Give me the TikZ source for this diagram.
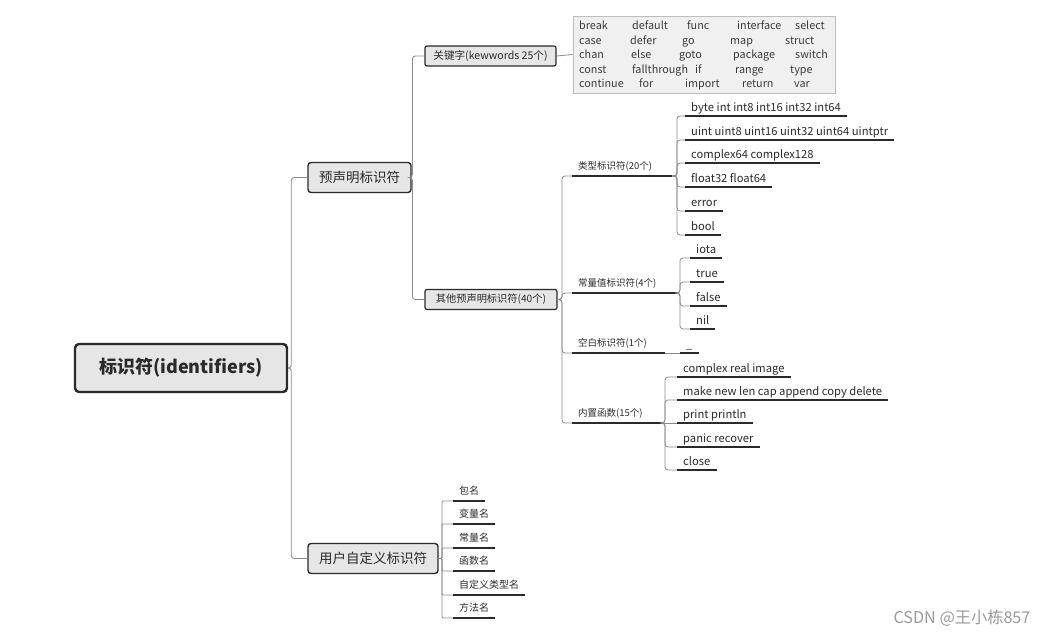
\documentclass[tikz,border=0pt]{standalone}
\usepackage{fontspec}
\setmainfont{Noto Sans CJK SC}
\usepackage{tikz}
\usetikzlibrary{shapes,calc}

\definecolor{ink}{HTML}{2A2A2A}
\definecolor{kwink}{HTML}{3A3A3A}
\definecolor{boxfill}{HTML}{E6E6E6}
\definecolor{linkgray}{HTML}{8A8A8A}
\definecolor{kwfill}{HTML}{F0F0F0}
\definecolor{kwframe}{HTML}{BDBDBD}
\definecolor{markgray}{HTML}{9A9A9A}
\newcommand{\setfs}[1]{\fontsize{#1}{#1}\selectfont}

\begin{document}
\begin{tikzpicture}[x=1pt, y=-1pt,
	root/.style={draw=ink, line width=2.4pt, fill=boxfill, rounded corners=4pt, minimum width=212pt, minimum height=48pt, font=\setfs{18}\bfseries, text=ink},
	topic/.style={draw=ink, line width=1.4pt, fill=boxfill, rounded corners=3pt, minimum height=30pt, font=\setfs{13.5}, text=ink},
	subtopic/.style={draw=ink, line width=1.2pt, fill=boxfill, rounded corners=2pt, minimum height=20pt, inner xsep=3pt, text=ink},
	kwbox/.style={draw=kwframe, line width=0.8pt, fill=kwfill, minimum width=262pt, minimum height=77pt},
	kw/.style={anchor=base west, inner sep=0pt, font=\setfs{10.8}, text=kwink},
	mid/.style={anchor=south west, inner xsep=6pt, inner ysep=1.5pt, text height=7.5pt, text depth=5pt, font=\setfs{9.5}, text=ink, align=left},
	leaf/.style={anchor=south west, inner xsep=6pt, inner ysep=1.5pt, text height=7.5pt, text depth=3pt, font=\setfs{11.2}, text=ink},
	uline/.style={draw=ink, line width=1.6pt},
	link/.style={draw=linkgray, line width=0.8pt, rounded corners=3pt},
	fork/.style={to path={-| ([xshift=-#1]\tikztotarget) -- (\tikztotarget)}},
	wmark/.style={font=\setfs{16.2}, text=markgray}]
	\useasboundingbox (0,0) rectangle (1053,636);

	\node[root] (root) at (181,368) {标识符(identifiers)};
	\node[topic, minimum width=103pt] (pre) at (359.5,177.5) {预声明标识符};
	\node[topic, minimum width=130pt] (usr) at (373,558.5) {用户自定义标识符};
	\node[subtopic, minimum width=131pt, font=\setfs{10.6}] (kwd) at (490.5,56) {关键字(kewwords 25个)};
	\node[subtopic, minimum width=132pt, font=\setfs{10.2}] (oth) at (491,299.5) {其他预声明标识符(40个)};

	% keyword table
	\node[kwbox] (kwbox) at (704,54.5) {};
	\foreach \w/\x/\r in {break/579/1, default/632/1, func/687/1, interface/737/1, select/795/1,
		case/579/2, defer/630/2, go/682/2, map/730/2, struct/785/2,
		chan/579/3, else/631/3, goto/679/3, package/733/3, switch/795/3,
		const/579/4, fallthrough/632/4, if/695/4, range/735/4, type/790/4,
		continue/579/5, for/639/5, import/685/5, return/742/5, var/794/5}
		\node[kw] (kw-\w) at (\x,{30+14.5*(\r-1)}) {\w};

	\node[mid, text width=88pt] (ty) at (572,176) {类型标识符(20个)};
	\node[mid, text width=93pt] (co) at (572,293) {常量值标识符(4个)};
	\node[mid, text width=81pt] (bl) at (572,353) {空白标识符(1个)};
	\node[mid, text width=78pt] (bi) at (572,423) {内置函数(15个)};

	\node[leaf] (t1) at (685,116) {byte int int8 int16 int32 int64};
	\node[leaf] (t2) at (685,140) {uint uint8 uint16 uint32 uint64 uintptr};
	\node[leaf] (t3) at (685,163) {complex64 complex128};
	\node[leaf] (t4) at (685,187) {float32 float64};
	\node[leaf] (t5) at (685,211) {error};
	\node[leaf] (t6) at (685,235) {bool};

	\node[leaf] (c1) at (690,258) {iota};
	\node[leaf] (c2) at (690,282) {true};
	\node[leaf] (c3) at (690,306) {false};
	\node[leaf] (c4) at (690,329) {nil};

	\node[leaf] (b1) at (680,353) {\_};

	\node[leaf] (f1) at (677,377) {complex real image};
	\node[leaf] (f2) at (677,400) {make new len cap append copy delete};
	\node[leaf] (f3) at (677,423) {print println};
	\node[leaf] (f4) at (677,447) {panic recover};
	\node[leaf] (f5) at (677,470) {close};

	\node[mid, font=\setfs{10}] (u1) at (453,501) {包名};
	\node[mid, font=\setfs{10}] (u2) at (453,524) {变量名};
	\node[mid, font=\setfs{10}] (u3) at (453,548) {常量名};
	\node[mid, font=\setfs{10}] (u4) at (453,571) {函数名};
	\node[mid, font=\setfs{10}] (u5) at (453,595) {自定义类型名};
	\node[mid, font=\setfs{10}] (u6) at (453,618) {方法名};

	\node[wmark] (credit) at (962,618) {CSDN @王小栋857};

	% underlines
	\foreach \n in {ty,co,bl,bi,t1,t2,t3,t4,t5,t6,c1,c2,c3,c4,b1,f1,f2,f3,f4,f5,u1,u2,u3,u4,u5,u6}
		\draw[uline] (\n.south west) -- (\n.south east);

	% branches
	\path[link] (root.east) edge[fork=16pt] (pre.west)
	                        edge[fork=16pt] (usr.west);
	\path[link] (pre.east) edge[fork=12pt] (kwd.west)
	                       edge[fork=12pt] (oth.west);
	\draw[link] (kwd.east) -- (kwbox.west);
	\path[link] (oth.east) edge[fork=10pt] (ty.south west)
	                       edge[fork=10pt] (co.south west)
	                       edge[fork=10pt] (bl.south west)
	                       edge[fork=10pt] (bi.south west);
	\path[link] (ty.south east) edge[fork=8pt] (t1.south west)
	                            edge[fork=8pt] (t2.south west)
	                            edge[fork=8pt] (t3.south west)
	                            edge[fork=8pt] (t4.south west)
	                            edge[fork=8pt] (t5.south west)
	                            edge[fork=8pt] (t6.south west);
	\path[link] (co.south east) edge[fork=10pt] (c1.south west)
	                            edge[fork=10pt] (c2.south west)
	                            edge[fork=10pt] (c3.south west)
	                            edge[fork=10pt] (c4.south west);
	\draw[link] (bl.south east) -- (b1.south west);
	\path[link] (bi.south east) edge[fork=12pt] (f1.south west)
	                            edge[fork=12pt] (f2.south west)
	                            edge (f3.south west)
	                            edge[fork=12pt] (f4.south west)
	                            edge[fork=12pt] (f5.south west);
	\path[link, rounded corners=1pt] (usr.east) edge[fork=11pt] (u1.south west)
	                            edge[fork=11pt] (u2.south west)
	                            edge[fork=11pt] (u3.south west)
	                            edge[fork=11pt] (u4.south west)
	                            edge[fork=11pt] (u5.south west)
	                            edge[fork=11pt] (u6.south west);
\end{tikzpicture}
\end{document}
